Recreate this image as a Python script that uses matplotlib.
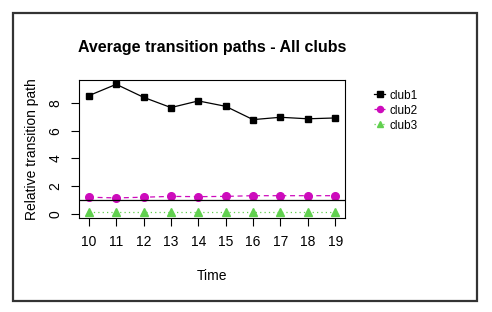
from matplotlib import pyplot as plt
from matplotlib.patches import Rectangle

time = [10, 11, 12, 13, 14, 15, 16, 17, 18, 19]
club1 = [8.53, 9.35, 8.41, 7.67, 8.15, 7.76, 6.80, 6.97, 6.86, 6.92]
club2 = [1.20, 1.15, 1.20, 1.26, 1.24, 1.26, 1.31, 1.31, 1.31, 1.31]
club3 = [0.10, 0.10, 0.10, 0.10, 0.10, 0.10, 0.10, 0.10, 0.10, 0.10]
ref_level = 1

plt.rcParams['font.family'] = ['Liberation Sans', 'DejaVu Sans']

fig = plt.figure(figsize=(4.92, 3.12), dpi=100)
ax = fig.add_axes([79/492, 1-218/312, (345-79)/492, (218-80)/312])

ax.plot(time, club1, color='black', lw=0.9, ls='-', marker='s', ms=5, label='club1')
ax.plot(time, club2, color='#CD0BBC', lw=0.9, ls=(0, (4, 3)), marker='o', ms=5.5, label='club2')
ax.plot(time, club3, color='#61D04F', lw=0.9, ls=(0, (1, 2.5)), marker='^', ms=6, label='club3')
ax.axhline(ref_level, color='black', lw=0.9)

ax.set_xlim(9.64, 19.36)
ax.set_ylim(-0.3, 9.66)
ax.set_xticks(time)
ax.set_yticks([0, 2, 4, 6, 8])
ax.tick_params(direction='out', length=6, width=0.8, labelsize=10, pad=6)
for lab in ax.get_yticklabels():
    lab.set_rotation(90)
    lab.set_va('center')
for s in ax.spines.values():
    s.set_linewidth(0.8)

ax.set_title('Average transition paths - All clubs', fontsize=11.5, fontweight='bold', pad=20)
ax.set_xlabel('Time', fontsize=10, labelpad=15)
ax.set_ylabel('Relative transition path', fontsize=10, labelpad=7)

leg = fig.legend(loc='upper left', bbox_to_anchor=(363/492, 1-79/312), frameon=False,
                 fontsize=8.5, handlelength=1.0, handletextpad=0.35, labelspacing=0.25,
                 markerscale=0.8)

fig.patches.append(Rectangle((13/492, 11/312), 464/492, 288/312, transform=fig.transFigure,
                             fill=False, edgecolor='#333333', lw=1.6))

plt.savefig('out.png', dpi=100)
